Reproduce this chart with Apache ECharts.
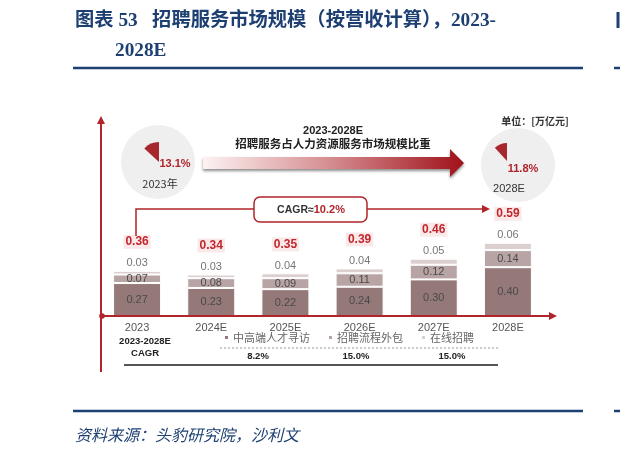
<!DOCTYPE html>
<html>
<head>
<meta charset="utf-8">
<script src="https://cdn.jsdelivr.net/npm/echarts@6/dist/echarts.min.js"></script>
<style>
html,body{margin:0;padding:0;background:#fff;}
#main{width:620px;height:454px;}
</style>
</head>
<body>
<div id="main"></div>
<script>
// ---- data ----
var categories = ['2023', '2024E', '2025E', '2026E', '2027E', '2028E'];
var seriesNames = ['中高端人才寻访', '招聘流程外包', '在线招聘'];
var headhunting = [0.27, 0.23, 0.22, 0.24, 0.30, 0.40];
var rpo = [0.07, 0.08, 0.09, 0.11, 0.12, 0.14];
var online = [0.03, 0.03, 0.04, 0.04, 0.05, 0.06];
var totals = [0.36, 0.34, 0.35, 0.39, 0.46, 0.59];
var cagrBySegment = ['8.2%', '15.0%', '15.0%'];
var totalCagr = '10.2%';
var shareYears = ['2023年', '2028E'];
var shares = [13.1, 11.8];

var SANS = "'Liberation Sans','Noto Sans CJK SC',sans-serif";
var CJK = "'Noto Sans CJK SC','Liberation Sans',sans-serif";
var TITLE_FONT = "'Liberation Serif','Noto Sans CJK SC',serif";
var NAVY = '#1d3f72';
var RED = '#b0242a';
var colors = ['#957878', '#b8a4a4', '#dccfcf'];

function txt(text, x, y, opt) {
  opt = opt || {};
  return {
    type: 'text', z: opt.z || 10,
    style: {
      text: text, x: x, y: y,
      fill: opt.fill || '#333',
      fontSize: opt.size || 11,
      fontWeight: opt.weight || 'normal',
      fontStyle: opt.style || 'normal',
      fontFamily: opt.family || SANS,
      align: opt.align || 'center', verticalAlign: 'middle',
      textAlign: opt.align || 'center', textVerticalAlign: 'middle',
      rich: opt.rich
    }
  };
}
function line(x1, y1, x2, y2, color, w, dash) {
  return { type: 'line', z: 5, shape: { x1: x1, y1: y1, x2: x2, y2: y2 },
    style: { stroke: color, lineWidth: w, lineDash: dash || null } };
}

var chart = echarts.init(document.getElementById('main'), null, { renderer: 'canvas' });

var graphics = [
  // title
  txt('图表 53   招聘服务市场规模（按营收计算），2023-', 75, 21, { fill: NAVY, size: 19.3, weight: 'bold', family: TITLE_FONT, align: 'left' }),
  txt('2028E', 115, 51, { fill: NAVY, size: 19.3, weight: 'bold', family: TITLE_FONT, align: 'left' }),
  line(73, 68, 583, 68, NAVY, 2.5),
  line(614, 68, 620, 68, NAVY, 2.5),
  line(618, 12, 618, 28, NAVY, 3),
  line(73, 411, 583, 411, NAVY, 2.5),
  line(614, 411, 620, 411, NAVY, 2.5),
  txt('资料来源：头豹研究院，沙利文', 75, 435, { fill: NAVY, size: 16, style: 'italic', family: CJK, align: 'left' }),

  // background circles
  { type: 'circle', z: 0, shape: { cx: 158, cy: 162, r: 37 }, style: { fill: '#efefef' } },
  { type: 'circle', z: 0, shape: { cx: 518, cy: 165, r: 37 }, style: { fill: '#efefef' } },
  txt(shares[0].toFixed(1) + '%', 175, 164, { fill: RED, size: 11, weight: 'bold' }),
  txt(shareYears[0], 160, 184, { fill: '#333', size: 11, family: CJK }),
  txt(shares[1].toFixed(1) + '%', 523, 169, { fill: RED, size: 11, weight: 'bold' }),
  txt(shareYears[1], 509, 189, { fill: '#333', size: 11 }),
  txt('单位：[万亿元]', 535, 121, { fill: '#333', size: 10, weight: 'bold', family: CJK }),

  // gradient arrow
  { type: 'polygon', z: 3,
    shape: { points: [[203, 157], [450, 157], [450, 149], [464, 163], [450, 177], [450, 169], [203, 169]] },
    style: {
      fill: new echarts.graphic.LinearGradient(0, 0, 1, 0, [
        { offset: 0, color: '#fdf2f2' }, { offset: 0.5, color: '#d48a8d' }, { offset: 1, color: '#a0111a' }
      ]),
      shadowBlur: 3, shadowOffsetY: 2, shadowColor: 'rgba(0,0,0,0.45)'
    } },
  txt('2023-2028E', 333, 131, { fill: '#222', size: 11, weight: 'bold' }),
  txt('招聘服务占人力资源服务市场规模比重', 333, 144, { fill: '#222', size: 11.5, weight: 'bold', family: CJK }),

  // CAGR bracket
  { type: 'polyline', z: 5, shape: { points: [[136, 236], [136, 209], [254, 209]] }, style: { stroke: RED, lineWidth: 1.5, fill: null } },
  line(367, 209, 484, 209, RED, 1.5),
  { type: 'polygon', z: 5, shape: { points: [[482, 205], [490, 209], [482, 213]] }, style: { fill: RED } },
  { type: 'rect', z: 6, shape: { x: 254, y: 197, width: 113, height: 25, r: 6 }, style: { fill: '#fff', stroke: RED, lineWidth: 1.5 } },
  txt('{a|CAGR≈}{b|' + totalCagr + '}', 311, 210, { z: 7, rich: {
    a: { fill: '#333', fontSize: 10.5, fontFamily: SANS, fontWeight: 'bold' },
    b: { fill: RED, fontSize: 11, fontFamily: SANS, fontWeight: 'bold' } } }),

  // axes
  line(101, 121, 101, 372, RED, 2),
  { type: 'polygon', z: 5, shape: { points: [[97, 124], [101, 116], [105, 124]] }, style: { fill: RED } },
  line(101, 316, 551, 316, RED, 2),
  { type: 'polygon', z: 5, shape: { points: [[549, 312], [557, 316], [549, 320]] }, style: { fill: RED } },
  { type: 'circle', z: 6, shape: { cx: 102, cy: 316, r: 2.8 }, style: { fill: RED } },

  // CAGR table
  txt('2023-2028E', 145, 341, { fill: '#222', size: 9.5, weight: 'bold' }),
  txt('CAGR', 145, 353, { fill: '#222', size: 9.5, weight: 'bold' }),
  line(220, 348, 498, 348, '#999', 1, [2, 2]),
  txt(cagrBySegment[0], 258, 356, { fill: '#222', size: 9.5, weight: 'bold' }),
  txt(cagrBySegment[1], 356, 356, { fill: '#222', size: 9.5, weight: 'bold' }),
  txt(cagrBySegment[2], 452, 356, { fill: '#222', size: 9.5, weight: 'bold' }),
  line(124, 365, 498, 365, '#555', 2)
];

function fmt2(p) { return p.value.toFixed(2); }

var option = {
  animation: false,
  backgroundColor: '#fff',
  textStyle: { fontFamily: SANS },
  color: colors,
  grid: { left: 100, width: 445, top: 194, height: 122 },
  legend: {
    left: 218, top: 327, icon: 'rect', itemWidth: 5, itemHeight: 5, itemGap: 17,
    textStyle: { color: '#666', fontSize: 11, fontFamily: CJK, padding: [0, 0, 0, -1] },
    data: seriesNames
  },
  xAxis: {
    type: 'category', data: categories,
    axisLine: { show: false }, axisTick: { show: false },
    axisLabel: { color: '#555', fontSize: 11, margin: 6 }
  },
  yAxis: { type: 'value', min: 0, max: 1, show: false, splitLine: { show: false } },
  series: [
    { name: seriesNames[0], type: 'bar', stack: 'a', data: headhunting, barWidth: 48,
      itemStyle: { color: colors[0], borderColor: '#fff', borderWidth: 1 },
      label: { show: true, position: 'inside', color: '#4a4a4a', fontSize: 11, formatter: fmt2 } },
    { name: seriesNames[1], type: 'bar', stack: 'a', data: rpo, barWidth: 48,
      itemStyle: { color: colors[1], borderColor: '#fff', borderWidth: 1 },
      label: { show: true, position: 'inside', color: '#4a4a4a', fontSize: 11, formatter: fmt2 } },
    { name: seriesNames[2], type: 'bar', stack: 'a', data: online, barWidth: 48,
      itemStyle: { color: colors[2], borderColor: '#fff', borderWidth: 1 },
      label: { show: true, position: 'top', distance: 1,
        formatter: function (p) { return '{t|' + totals[p.dataIndex].toFixed(2) + '}\n{v|' + p.value.toFixed(2) + '}'; },
        rich: {
          t: { color: '#c0262c', fontWeight: 'bold', fontSize: 12, backgroundColor: '#fbe9ea', padding: [1, 2], lineHeight: 30 },
          v: { color: '#777', fontSize: 11, lineHeight: 13 }
        } } },
    { type: 'pie', center: [159, 162], radius: [0, 20], startAngle: 90, clockwise: false,
      silent: true, label: { show: false }, labelLine: { show: false },
      data: [{ value: shares[0], itemStyle: { color: '#a8272c' } }, { value: 100 - shares[0], itemStyle: { color: 'rgba(0,0,0,0)' } }] },
    { type: 'pie', center: [507, 161], radius: [0, 18], startAngle: 90, clockwise: false,
      silent: true, label: { show: false }, labelLine: { show: false },
      data: [{ value: shares[1], itemStyle: { color: '#a8272c' } }, { value: 100 - shares[1], itemStyle: { color: 'rgba(0,0,0,0)' } }] }
  ],
  graphic: { elements: graphics }
};
chart.setOption(option);
</script>
</body>
</html>
